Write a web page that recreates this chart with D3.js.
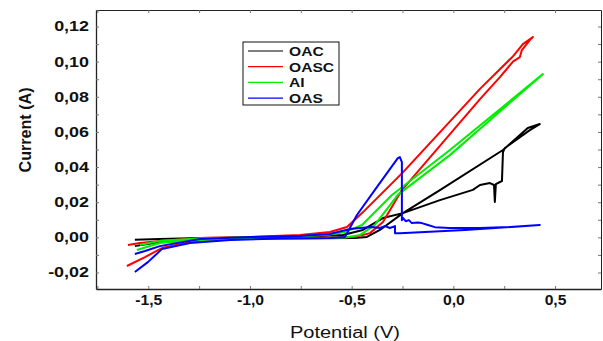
<!DOCTYPE html>
<html>
<head>
<meta charset="utf-8">
<script src="https://cdn.jsdelivr.net/npm/d3@7"></script>
<style>
  body { margin: 0; background: #fff; }
  text { font-family: "Liberation Sans", Arial, sans-serif; }
</style>
</head>
<body>
<script>
// Cyclic voltammograms: current vs potential for four samples

// Series names (legend order)
let names = ["OAC", "OASC", "AI", "OAS"];

// Each curve as [potential (V), current (A)], going right then back left
let oac = [
    [-1.566, -0.0050], [-1.443, -0.0027], [-1.246, -0.0013], [-0.951, -0.0007], [-0.656, -0.0005],
    [-0.484, -0.0004], [-0.425, 0.0002], [-0.361, 0.0042], [-0.248, 0.0138], [-0.066, 0.0212],
    [0.096, 0.0270], [0.131, 0.0298], [0.180, 0.0309], [0.200, 0.0298], [0.204, 0.0201],
    [0.209, 0.0303], [0.229, 0.0315], [0.239, 0.0320], [0.244, 0.0485], [0.253, 0.0508],
    [0.376, 0.0610], [0.425, 0.0645],
    [0.366, 0.0622], [0.244, 0.0497], [-0.066, 0.0269], [-0.248, 0.0138], [-0.346, 0.0110],
    [-0.445, 0.0042], [-0.543, 0.0013], [-0.754, 0.0002], [-1.000, -0.0001], [-1.246, -0.0004],
    [-1.443, -0.0010], [-1.566, -0.0013]
];

let oasc = [
    [-1.605, -0.0163], [-1.516, -0.0112], [-1.433, -0.0061], [-1.294, -0.0027], [-1.098, -0.0010],
    [-0.852, -0.0004], [-0.607, -0.0001], [-0.484, 0.0002], [-0.410, 0.0024], [-0.346, 0.0087],
    [-0.253, 0.0269], [0.131, 0.0787], [0.229, 0.0912], [0.293, 0.1000], [0.327, 0.1026],
    [0.337, 0.1066], [0.376, 0.1123], [0.391, 0.1140],
    [0.342, 0.1100], [0.293, 0.1030], [0.131, 0.0845], [-0.248, 0.0370],
    [-0.449, 0.0138], [-0.523, 0.0059], [-0.607, 0.0030], [-0.754, 0.0013], [-1.000, 0.0002],
    [-1.246, -0.0004], [-1.442, -0.0021], [-1.541, -0.0032], [-1.600, -0.0044]
];

let ai = [
    [-1.556, -0.0072], [-1.443, -0.0032], [-1.246, -0.0015], [-0.951, -0.0007], [-0.656, -0.0004],
    [-0.533, -0.0001], [-0.459, 0.0013], [-0.386, 0.0071], [-0.272, 0.0243], [-0.017, 0.0468],
    [0.440, 0.0929],
    [-0.017, 0.0497], [-0.302, 0.0241], [-0.449, 0.0070], [-0.533, 0.0030], [-0.607, 0.0016],
    [-0.754, 0.0005], [-1.000, 0.0000], [-1.246, -0.0007], [-1.443, -0.0020], [-1.541, -0.0044]
];

let oas = [
    [-1.566, -0.0197], [-1.502, -0.0141], [-1.433, -0.0067], [-1.295, -0.0032], [-1.098, -0.0015],
    [-0.852, -0.0007], [-0.607, -0.0004], [-0.533, 0.0002], [-0.474, 0.0127], [-0.376, 0.0286],
    [-0.273, 0.0451], [-0.263, 0.0457], [-0.253, 0.0428], [-0.253, 0.0098], [-0.248, 0.0110],
    [-0.234, 0.0092], [-0.219, 0.0098], [-0.204, 0.0081], [-0.175, 0.0084], [-0.155, 0.0081],
    [-0.125, 0.0070], [-0.091, 0.0058], [-0.017, 0.0053], [0.130, 0.0053], [0.278, 0.0059],
    [0.425, 0.0070],
    [0.057, 0.0042], [-0.263, 0.0024], [-0.287, 0.0024], [-0.287, 0.0064], [-0.312, 0.0053],
    [-0.336, 0.0064], [-0.361, 0.0053], [-0.401, 0.0059], [-0.459, 0.0053], [-0.508, 0.0047],
    [-0.548, 0.0036], [-0.607, 0.0019], [-0.754, 0.0007], [-1.000, 0.0002], [-1.246, -0.0010],
    [-1.443, -0.0050], [-1.516, -0.0078], [-1.566, -0.0095]
];

let curves = [oac, oasc, ai, oas];
let colors = ["#000000", "#ff0000", "#00ee00", "#0000ff"];

// Axis ticks
let xTicks = [-1.75, -1.5, -1.25, -1.0, -0.75, -0.5, -0.25, 0.0, 0.25, 0.5];
let xLabels = [-1.5, -1.0, -0.5, 0.0, 0.5];
let yTicks = [-0.02, -0.01, 0.00, 0.01, 0.02, 0.03, 0.04, 0.05, 0.06, 0.07, 0.08, 0.09, 0.10, 0.11, 0.12];
let yLabels = [-0.02, 0.00, 0.02, 0.04, 0.06, 0.08, 0.10, 0.12];

// Set up the svg
let svgWidth = 603;
let svgHeight = 341;
let margin = { top: 10, right: 2, bottom: 52, left: 96 };
let width = svgWidth - margin.left - margin.right;
let height = svgHeight - margin.top - margin.bottom;

let svg = d3.select("body")
            .append("svg")
            .attr("width", svgWidth)
            .attr("height", svgHeight);

let chartGroup = svg.append("g")
                    .attr("transform", `translate(${margin.left}, ${margin.top})`);

// Scales
let xScale = d3.scaleLinear().domain([-1.757, 0.726]).range([0, width]);
let yScale = d3.scaleLinear().domain([-0.0294, 0.1294]).range([height, 0]);

let comma = f => (d => d3.format(f)(d).replace(".", ",").replace("−", "-"));
let xFmt = comma(".1f");
let yFmt = comma(".2f");

// stretch text horizontally like the source picture
function stretch(sel, k) {
    sel.each(function() {
        let w = this.getComputedTextLength();
        d3.select(this).attr("textLength", w * k).attr("lengthAdjust", "spacingAndGlyphs");
    });
}

// Axes (ticks point inward)
let bottomAxis = d3.axisBottom(xScale).tickValues(xTicks)
                   .tickSizeInner(-3).tickSizeOuter(0).tickPadding(6)
                   .tickFormat(d => xLabels.some(v => Math.abs(v - d) < 1e-9) ? xFmt(d) : "");
let topAxis = d3.axisTop(xScale).tickValues(xTicks).tickSizeInner(-3).tickSizeOuter(0).tickFormat("");
let leftAxis = d3.axisLeft(yScale).tickValues(yTicks)
                 .tickSizeInner(-3).tickSizeOuter(0).tickPadding(7)
                 .tickFormat(d => yLabels.some(v => Math.abs(v - d) < 1e-9) ? yFmt(d) : "");
let rightAxis = d3.axisRight(yScale).tickValues(yTicks).tickSizeInner(-3).tickSizeOuter(0).tickFormat("");

let gx = chartGroup.append("g").attr("transform", `translate(0, ${height})`).call(bottomAxis);
let gt = chartGroup.append("g").call(topAxis);
let gy = chartGroup.append("g").call(leftAxis);
let gr = chartGroup.append("g").attr("transform", `translate(${width}, 0)`).call(rightAxis);

[gx, gt, gy, gr].forEach(g => {
    g.select(".domain").attr("stroke", "#222").attr("stroke-width", 1.3);
    g.selectAll(".tick line").attr("stroke", "#777");
});
gt.select(".domain").attr("stroke-width", 1);
gr.select(".domain").attr("stroke-width", 1);

gx.selectAll("text").attr("font-size", "14px").attr("font-weight", "bold").attr("fill", "#111");
gy.selectAll("text").attr("font-size", "14px").attr("font-weight", "bold").attr("fill", "#111");
stretch(gy.selectAll("text").filter(function() { return this.textContent !== ""; }), 1.28);
stretch(gx.selectAll("text").filter(function() { return this.textContent !== ""; }), 1.12);

// Axis titles
let yTitle = chartGroup.append("text")
          .attr("transform", "rotate(-90)")
          .attr("x", -120)
          .attr("y", -65)
          .attr("text-anchor", "middle")
          .attr("font-size", "16px")
          .attr("font-weight", "bold")
          .attr("fill", "#111")
          .text("Current (A)");
yTitle.attr("textLength", 85).attr("lengthAdjust", "spacingAndGlyphs");

let xTitle = chartGroup.append("text")
          .attr("x", 345 - margin.left)
          .attr("y", height + 49)
          .attr("text-anchor", "middle")
          .attr("font-size", "16px")
          .attr("fill", "#111")
          .text("Potential (V)");
stretch(xTitle, 1.25);

// Curves
chartGroup.append("clipPath").attr("id", "plotClip")
          .append("rect").attr("width", width).attr("height", height);

let line = d3.line().x(d => xScale(d[0])).y(d => yScale(d[1]));

chartGroup.append("g").attr("clip-path", "url(#plotClip)")
          .selectAll("path")
          .data(curves)
          .enter()
          .append("path")
          .attr("d", line)
          .attr("fill", "none")
          .attr("stroke", (d, i) => colors[i])
          .attr("stroke-width", 2)
          .attr("stroke-linejoin", "round");

// Legend
let legend = svg.append("g").attr("transform", "translate(243, 42)");
legend.append("rect")
      .attr("width", 96).attr("height", 63)
      .attr("fill", "#fff").attr("stroke", "#111").attr("stroke-width", 1);

let rows = legend.selectAll("g.row")
                 .data(names)
                 .enter()
                 .append("g")
                 .attr("class", "row")
                 .attr("transform", (d, i) => `translate(0, ${9 + i * 15.7})`);
rows.append("line")
    .attr("x1", 5).attr("x2", 40)
    .attr("stroke", (d, i) => colors[i]).attr("stroke-width", 1.2);
let legendText = rows.append("text")
    .attr("x", 46).attr("y", 5)
    .attr("font-size", "13px").attr("font-weight", "bold").attr("fill", "#111")
    .text(d => d);
stretch(legendText, 1.2);
</script>
</body>
</html>
